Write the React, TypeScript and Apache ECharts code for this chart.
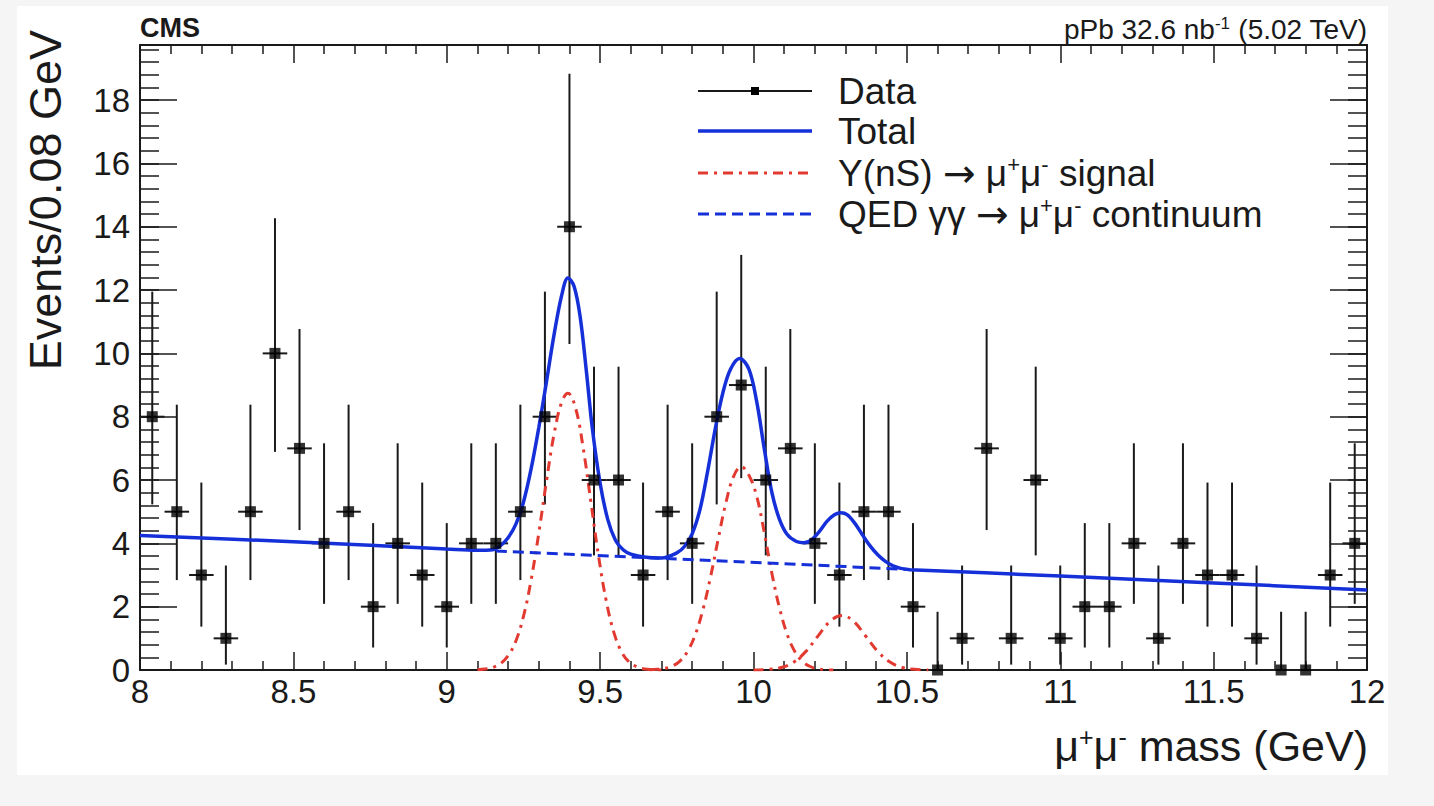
import React, { useEffect, useRef } from "react";
import * as echarts from "echarts";

// ---- data ----
const binCenters = [
  8.04, 8.12, 8.2, 8.28, 8.36, 8.44, 8.52, 8.6, 8.68, 8.76,
  8.84, 8.92, 9.0, 9.08, 9.16, 9.24, 9.32, 9.4, 9.48, 9.56,
  9.64, 9.72, 9.8, 9.88, 9.96, 10.04, 10.12, 10.2, 10.28, 10.36,
  10.44, 10.52, 10.6, 10.68, 10.76, 10.84, 10.92, 11.0, 11.08, 11.16,
  11.24, 11.32, 11.4, 11.48, 11.56, 11.64, 11.72, 11.8, 11.88, 11.96,
];
const counts = [
  8, 5, 3, 1, 5, 10, 7, 4, 5, 2,
  4, 3, 2, 4, 4, 5, 8, 14, 6, 6,
  3, 5, 4, 8, 9, 6, 7, 4, 3, 5,
  5, 2, 0, 1, 7, 1, 6, 1, 2, 2,
  4, 1, 4, 3, 3, 1, 0, 0, 3, 4,
];
const errLow = [
  5.23, 2.84, 1.37, 0.17, 2.84, 6.89, 4.42, 2.09, 2.84, 0.71,
  2.09, 1.37, 0.71, 2.09, 2.09, 2.84, 5.23, 10.3, 3.62, 3.62,
  1.37, 2.84, 2.09, 5.23, 6.06, 3.62, 4.42, 2.09, 1.37, 2.84,
  2.84, 0.71, 0, 0.17, 4.42, 0.17, 3.62, 0.17, 0.71, 0.71,
  2.09, 0.17, 2.09, 1.37, 1.37, 0.17, 0, 0, 1.37, 2.09,
];
const errHigh = [
  11.95, 8.38, 5.92, 3.3, 8.38, 14.27, 10.77, 7.16, 8.38, 4.64,
  7.16, 5.92, 4.64, 7.16, 7.16, 8.38, 11.95, 18.83, 9.58, 9.58,
  5.92, 8.38, 7.16, 11.95, 13.11, 9.58, 10.77, 7.16, 5.92, 8.38,
  8.38, 4.64, 1.84, 3.3, 10.77, 3.3, 9.58, 3.3, 4.64, 4.64,
  7.16, 3.3, 7.16, 5.92, 5.92, 3.3, 1.84, 1.84, 5.92, 7.16,
];
const binHalfWidth = 0.04;

const totalMass = [
  8.0, 8.5, 9.0, 9.1, 9.15, 9.175, 9.2, 9.225, 9.25, 9.275, 9.3, 9.325, 9.35, 9.375, 9.395,
  9.415, 9.435, 9.455, 9.475, 9.5, 9.525, 9.55, 9.575, 9.6, 9.65, 9.7,
  9.75, 9.775, 9.8, 9.825, 9.85, 9.875, 9.9, 9.925, 9.955,
  9.985, 10.01, 10.035, 10.06, 10.085, 10.11, 10.14, 10.165,
  10.19, 10.215, 10.24, 10.265, 10.285, 10.305, 10.33, 10.355, 10.38, 10.405, 10.43, 10.455, 10.48, 10.51,
  11.0, 11.5, 12.0,
];
const totalValues = [
  4.25, 4.05, 3.82, 3.78, 3.8, 3.93, 4.18, 4.6, 5.3, 6.35, 7.65, 9.1, 10.6, 11.85, 12.38,
  12.12, 11.15, 9.45, 7.6, 5.9, 4.75, 4.1, 3.8, 3.66, 3.56, 3.54,
  3.7, 3.9, 4.3, 5.05, 6.25, 7.6, 8.75, 9.5, 9.84,
  9.5, 8.5, 7.0, 5.6, 4.75, 4.28, 4.06, 4.02,
  4.12, 4.38, 4.7, 4.91, 4.97, 4.91, 4.64, 4.27, 3.92, 3.64, 3.43, 3.29, 3.21, 3.17,
  2.97, 2.75, 2.53,
];

const bgMass = [9.16, 10.5];
const bgValues = [3.76, 3.18];

const sig1Mass = [
  9.1, 9.125, 9.15, 9.175, 9.2, 9.225, 9.25, 9.275, 9.3, 9.325, 9.35, 9.375, 9.395,
  9.42, 9.445, 9.47, 9.495, 9.52, 9.545, 9.57, 9.595, 9.62, 9.645, 9.67, 9.7,
];
const sig1Values = [
  0.01, 0.03, 0.08, 0.2, 0.45, 0.91, 1.69, 2.84, 4.32, 5.96, 7.46, 8.47, 8.74,
  8.27, 7.0, 5.3, 3.59, 2.18, 1.18, 0.57, 0.25, 0.1, 0.03, 0.01, 0.0,
];
const sig2Mass = [
  9.66, 9.685, 9.71, 9.735, 9.76, 9.785, 9.81, 9.835, 9.86, 9.885, 9.91, 9.935, 9.96,
  9.985, 10.01, 10.035, 10.06, 10.085, 10.11, 10.135, 10.16, 10.185, 10.21, 10.235, 10.26,
];
const sig2Values = [
  0.01, 0.02, 0.05, 0.12, 0.28, 0.59, 1.11, 1.9, 2.94, 4.14, 5.28, 6.11, 6.42,
  6.15, 5.5, 4.35, 3.05, 1.95, 1.12, 0.58, 0.27, 0.11, 0.04, 0.01, 0.0,
];
const sig3Mass = [10.0, 10.05, 10.09, 10.13, 10.17, 10.21, 10.25, 10.288, 10.325, 10.365, 10.405, 10.445, 10.485, 10.525, 10.57];
const sig3Values = [0.0, 0.02, 0.08, 0.24, 0.58, 1.07, 1.54, 1.72, 1.55, 1.08, 0.59, 0.25, 0.08, 0.02, 0.0];

const xMin = 8;
const xMax = 12;
const yMin = 0;
const yMax = 19.74;

// ---- styles ----
const FONT = "'Liberation Sans', Arial, Helvetica, sans-serif";
const ARROW_FONT = "'DejaVu Sans', 'Liberation Sans', sans-serif";
const INK = "#1a1a1a";
const BLUE = "#1530d8";
const RED = "#e23a30";

const pairs = (xs: number[], ys: number[]) => xs.map((x, i) => [x, ys[i]]);

function buildOption(): any {
  const axisLineStyle = { color: INK, width: 2 };
  const tickStyle = { color: INK, width: 1.5 };

  const xAxisBase = {
    type: "value",
    min: xMin,
    max: xMax,
    interval: 0.5,
    splitLine: { show: false },
    axisLine: { show: true, onZero: false, lineStyle: axisLineStyle },
    axisTick: { show: true, inside: true, length: 18, lineStyle: tickStyle },
    minorTick: { show: true, splitNumber: 5, length: 9, lineStyle: tickStyle },
  };
  const yMajor = {
    type: "value",
    min: yMin,
    max: yMax,
    interval: 2,
    splitLine: { show: false },
    axisLine: { show: true, onZero: false, lineStyle: axisLineStyle },
    axisTick: { show: true, inside: true, length: 37, lineStyle: tickStyle },
  };
  const yMinor = {
    type: "value",
    min: yMin,
    max: yMax,
    interval: 0.4,
    splitLine: { show: false },
    axisLine: { show: false },
    axisLabel: { show: false },
    axisTick: { show: true, inside: true, length: 19, lineStyle: tickStyle },
  };

  const supRich = (big: number, small: number) => ({
    n: { fontSize: big, fontFamily: FONT, fill: INK, color: INK },
    s: { fontSize: small, fontFamily: FONT, fill: INK, color: INK, verticalAlign: "top" },
    a: { fontSize: big + 2, fontFamily: ARROW_FONT, fill: INK, color: INK },
  });

  const legendRows = [
    { y: 91, text: "Data" },
    { y: 131, text: "Total" },
    { y: 173, text: "{n|Υ(nS) }{a|→}{n| μ}{s|+}{n|μ}{s|-}{n| signal}" },
    { y: 214, text: "{n|QED γγ }{a|→}{n| μ}{s|+}{n|μ}{s|-}{n| continuum}" },
  ];
  const lx1 = 698;
  const lx2 = 812;
  const ltx = 838;

  const graphic: any[] = [
    {
      type: "rect",
      silent: true,
      z: -100,
      shape: { x: 17, y: 6, width: 1371, height: 769 },
      style: { fill: "#ffffff" },
    },
    {
      type: "text",
      x: 140,
      y: 28,
      style: { text: "CMS", fontSize: 27, fontWeight: "bold", fontFamily: FONT, fill: INK, align: "left", verticalAlign: "middle" },
    },
    {
      type: "text",
      x: 1367,
      y: 29,
      style: {
        text: "{n|pPb 32.6 nb}{s|-1}{n| (5.02 TeV)}",
        rich: supRich(28, 17),
        align: "right",
        verticalAlign: "middle",
        fill: INK,
      },
    },
    {
      type: "text",
      x: 45,
      y: 30,
      rotation: Math.PI / 2,
      style: { text: "Events/0.08 GeV", fontSize: 45, fontFamily: FONT, fill: INK, align: "right", verticalAlign: "middle" },
    },
    {
      type: "text",
      x: 1368,
      y: 746,
      style: {
        text: "{n|μ}{s|+}{n|μ}{s|-}{n| mass (GeV)}",
        rich: supRich(43, 25),
        align: "right",
        verticalAlign: "middle",
        fill: INK,
      },
    },
    // legend samples
    { type: "line", shape: { x1: lx1, y1: legendRows[0].y, x2: lx2, y2: legendRows[0].y }, style: { stroke: INK, lineWidth: 2 } },
    { type: "rect", shape: { x: 751, y: legendRows[0].y - 4, width: 8, height: 8 }, style: { fill: "#000" } },
    { type: "line", shape: { x1: lx1, y1: legendRows[1].y, x2: lx2, y2: legendRows[1].y }, style: { stroke: BLUE, lineWidth: 3.5 } },
    {
      type: "line",
      shape: { x1: lx1, y1: legendRows[2].y, x2: lx2, y2: legendRows[2].y },
      style: { stroke: RED, lineWidth: 3, lineDash: [10, 6, 3, 6] },
    },
    {
      type: "line",
      shape: { x1: lx1, y1: legendRows[3].y, x2: lx2, y2: legendRows[3].y },
      style: { stroke: BLUE, lineWidth: 3, lineDash: [11, 6] },
    },
  ];
  legendRows.forEach((row) => {
    const isRich = row.text.startsWith("{");
    graphic.push({
      type: "text",
      x: ltx,
      y: row.y,
      style: isRich
        ? { text: row.text, rich: supRich(37, 22), align: "left", verticalAlign: "middle", fill: INK }
        : { text: row.text, fontSize: 37, fontFamily: FONT, fill: INK, align: "left", verticalAlign: "middle" },
    });
  });

  const errData = binCenters.map((x, i) => [x, counts[i], errLow[i], errHigh[i]]);

  return {
    animation: false,
    backgroundColor: "#f5f5f5",
    grid: { left: 140, top: 45, width: 1227, height: 625, containLabel: false },
    xAxis: [
      {
        ...xAxisBase,
        position: "bottom",
        axisLabel: {
          show: true,
          fontSize: 33,
          fontFamily: FONT,
          color: INK,
          margin: 5,
          showMinLabel: true,
          showMaxLabel: true,
        },
      },
      { ...xAxisBase, position: "top", axisLabel: { show: false } },
    ],
    yAxis: [
      {
        ...yMajor,
        position: "left",
        axisLabel: { show: true, fontSize: 33, fontFamily: FONT, color: INK, margin: 10, showMaxLabel: false },
      },
      { ...yMinor, position: "left" },
      { ...yMajor, position: "right", axisLabel: { show: false } },
      { ...yMinor, position: "right" },
    ],
    graphic,
    series: [
      {
        type: "custom",
        name: "Data errors",
        data: errData,
        encode: { x: 0, y: 1 },
        z: 3,
        renderItem: (_params: any, api: any) => {
          const x = api.value(0);
          const y = api.value(1);
          const lo = api.value(2);
          const hi = api.value(3);
          const pLo = api.coord([x, lo]);
          const pHi = api.coord([x, hi]);
          const pL = api.coord([x - binHalfWidth, y]);
          const pR = api.coord([x + binHalfWidth, y]);
          const st = { stroke: INK, lineWidth: 2 };
          return {
            type: "group",
            children: [
              { type: "line", shape: { x1: pLo[0], y1: pLo[1], x2: pHi[0], y2: pHi[1] }, style: st },
              { type: "line", shape: { x1: pL[0], y1: pL[1], x2: pR[0], y2: pR[1] }, style: st },
            ],
          };
        },
      },
      {
        type: "line",
        name: "Υ(nS) signal 1S",
        data: pairs(sig1Mass, sig1Values),
        smooth: 0.4,
        showSymbol: false,
        symbol: "none",
        z: 4,
        lineStyle: { color: RED, width: 3, type: [10, 6, 3, 6] },
      },
      {
        type: "line",
        name: "Υ(nS) signal 2S",
        data: pairs(sig2Mass, sig2Values),
        smooth: 0.4,
        showSymbol: false,
        symbol: "none",
        z: 4,
        lineStyle: { color: RED, width: 3, type: [10, 6, 3, 6] },
      },
      {
        type: "line",
        name: "Υ(nS) signal 3S",
        data: pairs(sig3Mass, sig3Values),
        smooth: 0.4,
        showSymbol: false,
        symbol: "none",
        z: 4,
        lineStyle: { color: RED, width: 3, type: [10, 6, 3, 6] },
      },
      {
        type: "line",
        name: "QED continuum",
        data: pairs(bgMass, bgValues),
        showSymbol: false,
        symbol: "none",
        z: 4,
        lineStyle: { color: BLUE, width: 3, type: [11, 6] },
      },
      {
        type: "line",
        name: "Total",
        data: pairs(totalMass, totalValues),
        smooth: 0.35,
        showSymbol: false,
        symbol: "none",
        z: 5,
        lineStyle: { color: BLUE, width: 3.5 },
      },
      {
        type: "scatter",
        name: "Data",
        data: binCenters.map((x, i) => [x, counts[i]]),
        symbol: "rect",
        symbolSize: 11,
        z: 6,
        itemStyle: { color: "#000" },
      },
    ],
  };
}

export default function App() {
  const ref = useRef<HTMLDivElement>(null);
  useEffect(() => {
    if (!ref.current) return;
    const chart = echarts.init(ref.current, null, { renderer: "svg" });
    chart.setOption(buildOption());
    return () => chart.dispose();
  }, []);
  return (
    <div
      ref={ref}
      style={{ position: "fixed", left: 0, top: 0, width: 1434, height: 806 }}
    />
  );
}
